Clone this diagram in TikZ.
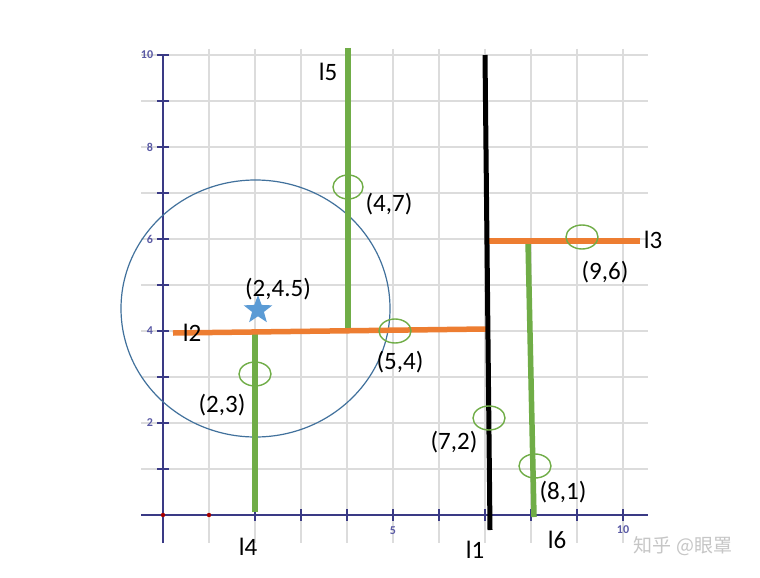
\documentclass[tikz,border=0pt]{standalone}
\usepackage{fontspec}
\setmainfont{Carlito}
\newfontfamily\cjk{Noto Sans CJK SC}
\usetikzlibrary{shapes.geometric}
\definecolor{gridc}{HTML}{DCDCDC}
\definecolor{axisc}{HTML}{3A3A85}
\definecolor{axtxt}{HTML}{5A5AA5}
\definecolor{grn}{HTML}{70AD47}
\definecolor{org}{HTML}{ED7D31}
\definecolor{circc}{HTML}{41719C}
\definecolor{starc}{HTML}{5B9BD5}
\tikzset{
  gridline/.style={gridc, line width=1.5pt},
  axisline/.style={axisc, line width=1.1pt},
  greenseg/.style={grn, line width=5.5pt},
  orangeseg/.style={org, line width=5.5pt},
  blackseg/.style={black, line width=5pt},
  hit/.style={grn, line width=1.4pt},
  lbl/.style={font=\fontsize{25}{25}\selectfont, inner sep=0pt},
  axlbl/.style={axtxt, font=\fontsize{12}{12}\selectfont\bfseries, inner sep=0pt},
}
\begin{document}
\begin{tikzpicture}[x=1pt,y=-1pt]
\useasboundingbox (0,0) rectangle (760,578);
\fill[white] (0,0) rectangle (760,578);
% grid
\foreach \i in {1,...,10} \draw[gridline] ({163+46*\i},49) -- ({163+46*\i},543);
\foreach \j in {1,...,10} \draw[gridline] (141,{515-46*\j}) -- (648,{515-46*\j});
% axes
\draw[axisline] (163,543) -- (163,55);
\draw[axisline] (141,515) -- (648,515);
\foreach \j in {1,...,10} \draw[axisline] (157,{515-46*\j}) -- (169,{515-46*\j});
\foreach \i in {2,...,10} \draw[axisline] ({163+46*\i},509) -- ({163+46*\i},521);
\fill[red!65!black] (163,515) circle (2.2pt);
\fill[red!65!black] (209,515) circle (2.2pt);
\node[axlbl] (y10) at (147,55) {10};
\node[axlbl] (y8) at (150,147) {8};
\node[axlbl] (y6) at (150,239) {6};
\node[axlbl] (y4) at (150,331) {4};
\node[axlbl] (y2) at (150,423) {2};
\node[axlbl] (x5) at (393,531) {5};
\node[axlbl] (x10) at (623,530) {10};
% circle
\draw[circc, line width=1.2pt] (255.5,308.5) ellipse (134.5pt and 128.5pt);
% segments
\draw[greenseg] (348,48) -- (348,329);
\draw[greenseg] (255,333) -- (255,512);
\draw[greenseg] (528,241) -- (534,517);
\draw[orangeseg] (173,333) -- (486,329);
\draw[orangeseg] (489,241) -- (640,241);
\draw[blackseg] (485,55) -- (490,530);
% hit ellipses
\draw[hit] (348,187) ellipse (15pt and 12pt);
\draw[hit] (395,331) ellipse (16pt and 12pt);
\draw[hit] (255,374) ellipse (16pt and 12pt);
\draw[hit] (489,418) ellipse (16pt and 12pt);
\draw[hit] (535,466) ellipse (16pt and 12pt);
\draw[hit] (582,237) ellipse (16pt and 12pt);
% star
\node[star, star points=5, star point ratio=2.4, fill=starc, minimum size=30pt, inner sep=0pt] (st) at (258,310) {};
% labels
\node[lbl] (l5) at (328,72) {l5};
\node[lbl] (p47) at (389,204) {(4,7)};
\node[lbl] (l3) at (653,240) {l3};
\node[lbl] (p96) at (605,272) {(9,6)};
\node[lbl] (p245) at (278,289) {(2,4.5)};
\node[lbl] (l2) at (192,333) {l2};
\node[lbl] (p54) at (400,362) {(5,4)};
\node[lbl] (p23) at (222,405) {(2,3)};
\node[lbl] (p72) at (454,442) {(7,2)};
\node[lbl] (p81) at (563,492) {(8,1)};
\node[lbl] (l4) at (248,547) {l4};
\node[lbl] (l1) at (475,550) {l1};
\node[lbl] (l6) at (557,540) {l6};
\node[gray!45, font=\cjk\fontsize{19}{19}\selectfont, inner sep=0pt] (wm) at (683,546) {知乎 @眼罩};
\end{tikzpicture}
\end{document}
